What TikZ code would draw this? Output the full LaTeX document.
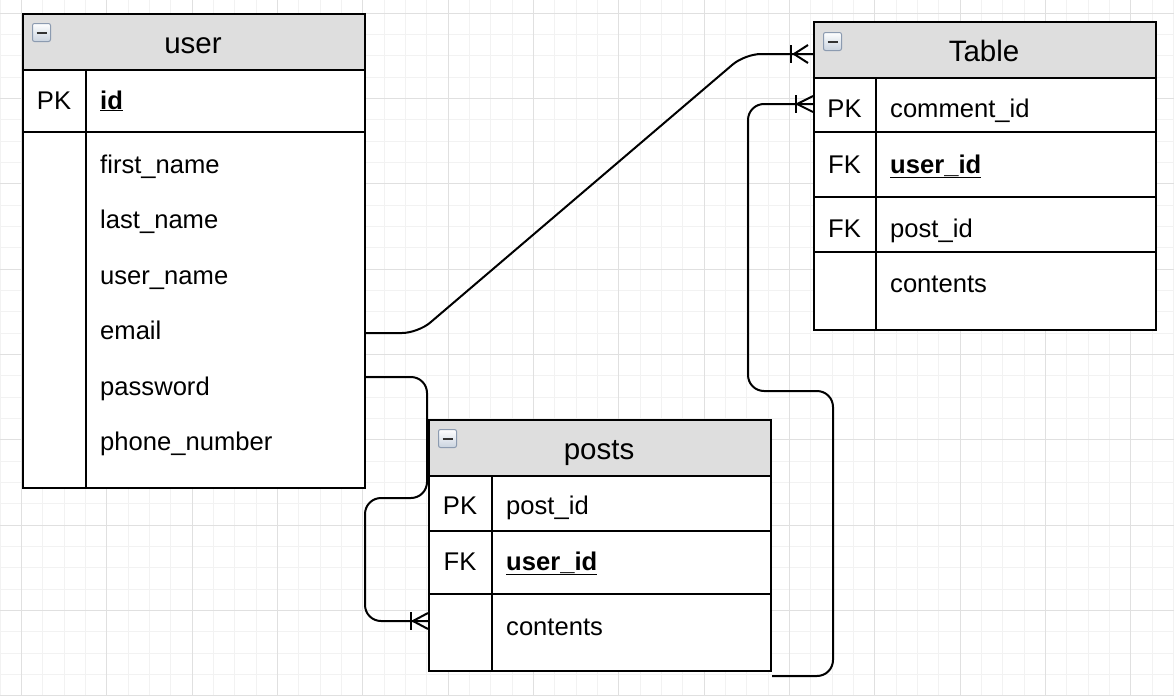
\documentclass[tikz,border=0pt]{standalone}
\usepackage{fontspec}
\setmainfont{Liberation Sans}
\usetikzlibrary{calc}
\definecolor{hdrgray}{HTML}{DEDEDE}
\definecolor{gridmajor}{HTML}{E0E0E0}
\definecolor{gridminor}{HTML}{F2F2F2}
\definecolor{iconedge}{HTML}{8C9BB0}
\definecolor{iconbot}{HTML}{C9D3DF}
\tikzset{
  tbl/.style={draw=black, line width=2.2pt, inner sep=0pt, anchor=north west},
  hdr/.style={tbl, fill=hdrgray},
  rowline/.style={line width=2pt},
  conn/.style={line width=2pt, rounded corners=16pt},
  crow/.style={line width=2pt},
  fieldtxt/.style={font=\fontsize{25.6}{30}\selectfont, anchor=base west, inner sep=0pt},
  keytxt/.style={font=\fontsize{25.6}{30}\selectfont, anchor=base, inner sep=0pt},
  titletxt/.style={font=\fontsize{29.5}{34}\selectfont, anchor=base, inner sep=0pt},
  icon/.style={draw=iconedge, line width=1pt, rounded corners=2pt, top color=white, bottom color=iconbot, minimum size=18pt, inner sep=0pt, anchor=north west},
}
\newcommand{\uid}[1]{\underline{\textbf{#1}}}
\begin{document}
\begin{tikzpicture}[x=1pt, y=-1pt]
\useasboundingbox (0,0) rectangle (1174,696);
\fill[white] (0,0) rectangle (1174,696);
% grid
\foreach \i in {0,...,55} {
  \draw[gridminor, line width=0.8pt] ({0.17+21.333*\i},0) -- ++(0,696);
}
\foreach \j in {0,...,32} {
  \draw[gridminor, line width=0.8pt] (0,{13+21.333*\j}) -- ++(1174,0);
}
\foreach \i in {0,...,13} {
  \draw[gridmajor, line width=1pt] ({21.5+85.333*\i},0) -- ++(0,696);
}
\foreach \j in {0,...,8} {
  \draw[gridmajor, line width=1pt] (0,{13+85.333*\j}) -- ++(1174,0);
}

% ---------------- user table ----------------
\node[tbl, fill=white, minimum width=342pt, minimum height=474pt] (user) at (22,13) {};
\node[hdr, minimum width=342pt, minimum height=56pt] (userH) at (22,13) {};
\draw[rowline] (22,132) -- (364,132);
\draw[rowline] (86,69) -- (86,487);
\node[icon] (userI) at (32,23) {};
\draw[line width=2pt, black!80] ($(userI.center)+(-5,0)$) -- ($(userI.center)+(5,0)$);
\node[titletxt] (userT) at (193,53) {user};
\node[keytxt] (userPK) at (54,109) {PK};
\node[fieldtxt] (userId) at (100,109) {\uid{id}};
\node[fieldtxt] (userF1) at (100,173) {first\_name};
\node[fieldtxt] (userF2) at (100,228) {last\_name};
\node[fieldtxt] (userF3) at (100,284) {user\_name};
\node[fieldtxt] (userF4) at (100,339) {email};
\node[fieldtxt] (userF5) at (100,395) {password};
\node[fieldtxt] (userF6) at (100,450) {phone\_number};

% ---------------- Table (comments) ----------------
\node[tbl, fill=white, minimum width=342pt, minimum height=308pt] (cmt) at (813,21) {};
\node[hdr, minimum width=342pt, minimum height=56pt] (cmtH) at (813,21) {};
\draw[rowline] (813,132) -- (1155,132);
\draw[rowline] (813,197) -- (1155,197);
\draw[rowline] (813,252) -- (1155,252);
\draw[rowline] (876,77) -- (876,329);
\node[icon] (cmtI) at (823,32) {};
\draw[line width=2pt, black!80] ($(cmtI.center)+(-5,0)$) -- ($(cmtI.center)+(5,0)$);
\node[titletxt] (cmtT) at (984,61) {Table};
\node[keytxt] (cmtK1) at (844.5,117) {PK};
\node[fieldtxt] (cmtF1) at (890,117) {comment\_id};
\node[keytxt] (cmtK2) at (844.5,173) {FK};
\node[fieldtxt] (cmtF2) at (890,173) {\uid{user\_id}};
\node[keytxt] (cmtK3) at (844.5,237) {FK};
\node[fieldtxt] (cmtF3) at (890,237) {post\_id};
\node[fieldtxt] (cmtF4) at (890,292) {contents};

% ---------------- posts ----------------
\node[tbl, fill=white, minimum width=342pt, minimum height=251pt] (posts) at (428,419) {};
\node[hdr, minimum width=342pt, minimum height=56pt] (postsH) at (428,419) {};
\draw[rowline] (428,531) -- (770,531);
\draw[rowline] (428,594) -- (770,594);
\draw[rowline] (492,475) -- (492,670);
\node[icon] (postsI) at (438,429) {};
\draw[line width=2pt, black!80] ($(postsI.center)+(-5,0)$) -- ($(postsI.center)+(5,0)$);
\node[titletxt] (postsT) at (599,459) {posts};
\node[keytxt] (postsK1) at (460,514) {PK};
\node[fieldtxt] (postsF1) at (506,514) {post\_id};
\node[keytxt] (postsK2) at (460,570) {FK};
\node[fieldtxt] (postsF2) at (506,570) {\uid{user\_id}};
\node[fieldtxt] (postsF3) at (506,635) {contents};

% ---------------- connectors ----------------
\coordinate (uEmail) at (user.east |- 0,333);
\coordinate (uPass) at (user.east |- 0,377);
\coordinate (cHead) at (cmt.west |- 0,54);
\coordinate (cPK) at (cmt.west |- 0,104);
\coordinate (pCont) at (posts.west |- 0,621);
\coordinate (pEnd) at (posts.east |- 0,676);

\draw[conn] (uEmail) -- (418,333) -- (745,54) -- (cHead);
\draw[conn] (uPass) -- (427,377) -- (427,498) -- (365,498) -- (365,621) -- (pCont);
\draw[conn] (pEnd) -- (833,676) -- (833,391) -- (748,391) -- (748,104) -- (cPK);

% crow's feet (one-or-many)
\draw[crow] ([shift={(-22,-9)}]cHead) -- ([shift={(-22,9)}]cHead);
\draw[crow] ([shift={(-5,-9)}]cHead) -- ([shift={(-19,0)}]cHead) -- ([shift={(-5,9)}]cHead);
\draw[crow] ([shift={(-17,-9)}]cPK) -- ([shift={(-17,9)}]cPK);
\draw[crow] ([shift={(0,-8)}]cPK) -- ([shift={(-16,0)}]cPK) -- ([shift={(0,8)}]cPK);
\draw[crow] ([shift={(-17,-9)}]pCont) -- ([shift={(-17,9)}]pCont);
\draw[crow] ([shift={(0,-8)}]pCont) -- ([shift={(-15,0)}]pCont) -- ([shift={(0,8)}]pCont);
\end{tikzpicture}
\end{document}
